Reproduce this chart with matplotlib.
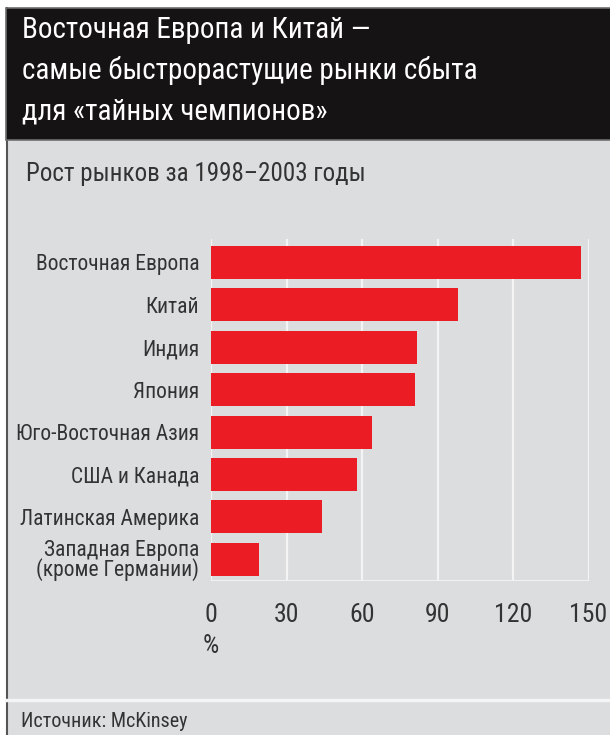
import matplotlib
matplotlib.use("Agg")
import matplotlib.pyplot as plt
from matplotlib.patches import Rectangle
from matplotlib.lines import Line2D

plt.rcParams['font.family'] = ['Roboto Condensed', 'DejaVu Sans']
plt.rcParams['font.stretch'] = 'condensed'

categories = ["Восточная Европа", "Китай", "Индия", "Япония", "Юго-Восточная Азия",
              "США и Канада", "Латинская Америка", "Западная Европа\n(кроме Германии)"]
growth = [147, 98, 82, 81, 64, 58, 44, 19]
xticks = [0, 30, 60, 90, 120, 150]

title_lines = ["Восточная Европа и Китай —",
               "самые быстрорастущие рынки сбыта",
               "для «тайных чемпионов»"]
subtitle = "Рост рынков за 1998–2003 годы"
source = "Источник: McKinsey"

W, H = 610, 735
fig = plt.figure(figsize=(W / 100, H / 100), dpi=100)
fig.patch.set_facecolor("white")

def fx(px):
    return px / W

def fy(py):
    return 1 - py / H

# gray panel and black header
fig.patches.append(Rectangle((fx(6), 0), 1, fy(139), transform=fig.transFigure,
                             facecolor="#dcdddf", edgecolor="none", zorder=-2))
fig.patches.append(Rectangle((fx(6), fy(140)), 1, fy(8) - fy(140), transform=fig.transFigure,
                             facecolor="#151313", edgecolor="#6e6e6e", lw=1.2, zorder=-1))
fig.lines.append(Line2D([fx(6.5), fx(6.5)], [0, fy(8)], transform=fig.transFigure,
                        color="#555555", lw=1.5, zorder=-1))
fig.lines.append(Line2D([fx(7), 1], [fy(700), fy(700)], transform=fig.transFigure,
                        color="#f4f4f4", lw=2.5, zorder=-1))

for i, line in enumerate(title_lines):
    fig.text(fx(22), fy(38 + i * 41), line, color="white", fontsize=21,
             va="baseline", ha="left")

fig.text(fx(26), fy(181), subtitle, color="#333333", fontsize=18, va="baseline", ha="left")
fig.text(fx(21), fy(727), source, color="#333333", fontsize=14.5, va="baseline", ha="left")

ax = fig.add_axes([fx(211), fy(581), fx(588.5) - fx(211), fy(239) - fy(581)])
ax.set_facecolor("none")
ypos = list(range(len(categories)))
ax.barh(ypos, growth, height=0.78, color="#ec1c24", zorder=3)
ax.set_xlim(0, 150)
ax.set_ylim(7.514, -0.554)
ax.set_xticks(xticks)
ax.set_xticklabels([str(v) for v in xticks], fontsize=18.5, color="#333333")
ax.set_yticks(ypos)
ax.set_yticklabels(categories, fontsize=15.5, color="#333333", linespacing=0.85)
ax.tick_params(axis="both", length=0)
ax.tick_params(axis="x", pad=16)
ax.tick_params(axis="y", pad=8.5)
for s in ax.spines.values():
    s.set_visible(False)
ax.xaxis.grid(True, color="#f4f4f4", lw=1.6, zorder=1)
ax.axhline(7.514, color="#f4f4f4", lw=2, zorder=1)
ax.text(0, -(653 - 581) / (581 - 239), "%", transform=ax.get_xaxis_transform(),
        fontsize=18.5, color="#333333", ha="center", va="baseline")

fig.savefig("out.png", dpi=100)
